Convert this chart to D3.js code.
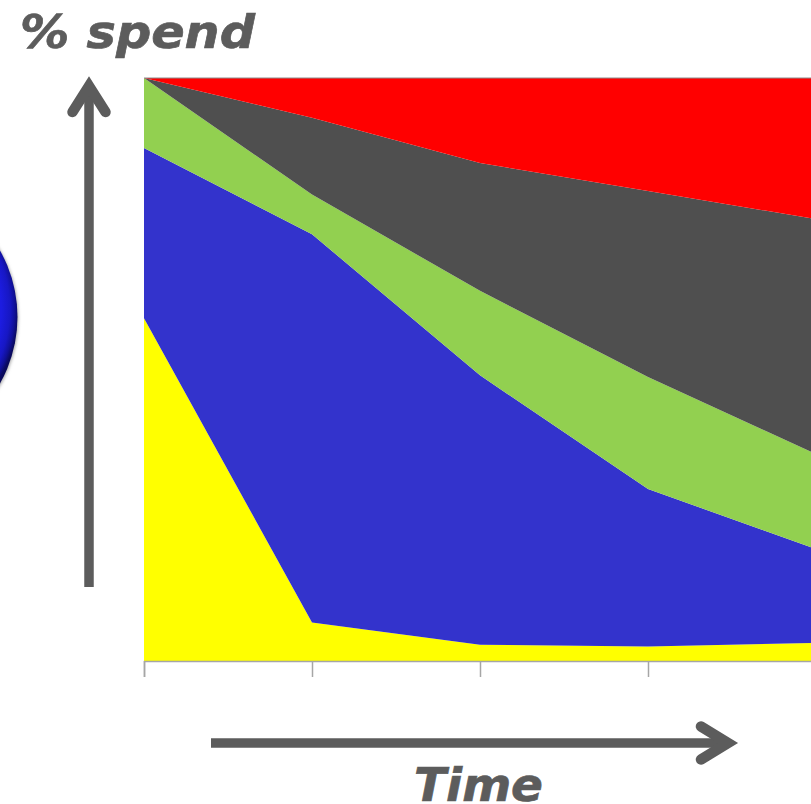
<!DOCTYPE html>
<html><head><meta charset="utf-8">
<script src="https://cdn.jsdelivr.net/npm/d3@7/dist/d3.min.js"></script>
<style>html,body{margin:0;padding:0;background:#fff;overflow:hidden}svg{display:block}</style>
</head><body><svg id="c" width="811" height="804"></svg>
<script>
const periods = [0, 1, 2, 3, 4];
const seriesNames = ["yellow", "blue", "green", "dark", "red"];
const yellow = [58.8, 6.6, 2.8, 2.5, 3.1];
const blue = [29.2, 66.6, 46.2, 27.0, 16.1];
const green = [12.0, 6.8, 14.5, 19.2, 16.3];
const dark = [0, 13.2, 21.9, 31.9, 40.3];
const red = [0, 6.8, 14.6, 19.4, 24.2];
const colors = ["#ffff00", "#3333cc", "#92d050", "#4f4f4f", "#ff0000"];
const axisLabelX = "Time";
const axisLabelY = "% spend";

const svg = d3.select("#c");
const x = d3.scaleLinear().domain([0, 4]).range([144, 816]);
const y = d3.scaleLinear().domain([0, 100]).range([661, 78]);
const rows = periods.map((p, i) => ({p, yellow: yellow[i], blue: blue[i], green: green[i], dark: dark[i], red: red[i]}));
const stacked = d3.stack().keys(seriesNames)(rows);
const area = d3.area().x(d => x(d.data.p)).y0(d => y(d[0])).y1(d => y(d[1]));

const defs = svg.append("defs");
const g = defs.append("radialGradient").attr("id", "ball").attr("cx", "50%").attr("cy", "47%").attr("r", "53%");
[[0, "#2020e8"], [0.83, "#1c1ce0"], [0.89, "#1717c4"], [0.925, "#101096"], [0.95, "#0a0a60"], [1, "#080848"]]
  .forEach(s => g.append("stop").attr("offset", s[0]).attr("stop-color", s[1]));
const f = defs.append("filter").attr("id", "soft").attr("x", "-10%").attr("y", "-10%").attr("width", "120%").attr("height", "120%");
f.append("feGaussianBlur").attr("stdDeviation", 1.6);
svg.append("circle").attr("cx", -116.5).attr("cy", 318).attr("r", 135).attr("fill", "#b0b0b0").attr("filter", "url(#soft)");
svg.append("circle").attr("cx", -117.5).attr("cy", 317).attr("r", 135).attr("fill", "url(#ball)");

svg.append("g").selectAll("path").data(stacked).join("path")
  .attr("d", area).attr("fill", (d, i) => colors[i]);

svg.append("line").attr("x1", x(0)).attr("x2", x(4)).attr("y1", y(100)).attr("y2", y(100)).attr("stroke", "#8c8c8c").attr("stroke-width", 1);
const axis = d3.axisBottom(x).tickValues(periods).tickSize(16).tickFormat("");
const ax = svg.append("g").attr("transform", `translate(0,${y(0)})`).call(axis);
ax.selectAll("path,line").attr("stroke", "#a6a6a6").attr("stroke-width", 1.5);

const ink = "#5c5c5c";
const arrows = svg.append("g").attr("fill", "none").attr("stroke", ink);
arrows.append("path").attr("d", d3.line()([[89, 587], [89, 92]])).attr("stroke-width", 9.5);
arrows.append("path").attr("d", d3.line()([[72.5, 112], [89, 86], [105.5, 112]])).attr("stroke-width", 10.5)
  .attr("stroke-linecap", "round").attr("stroke-linejoin", "miter");
arrows.append("path").attr("d", d3.line()([[211, 743], [722, 743]])).attr("stroke-width", 9.5);
arrows.append("path").attr("d", d3.line()([[701, 726.5], [728, 743], [701, 759.5]])).attr("stroke-width", 10.5)
  .attr("stroke-linecap", "round").attr("stroke-linejoin", "miter");

const font = "'DejaVu Sans'";
const labels = [[axisLabelY, 20, 48, 235], [axisLabelX, 414, 801, 129]];
svg.append("g").selectAll("text").data(labels).join("text")
  .attr("x", d => d[1]).attr("y", d => d[2]).text(d => d[0])
  .attr("textLength", d => d[3]).attr("lengthAdjust", "spacingAndGlyphs")
  .attr("font-family", font).attr("font-weight", "bold").attr("font-style", "italic").attr("font-size", 47)
  .attr("fill", ink).attr("stroke", ink).attr("stroke-width", 0.7);
</script></body></html>
